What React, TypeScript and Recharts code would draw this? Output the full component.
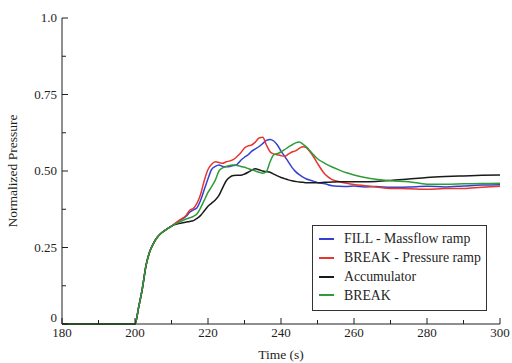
import { LineChart, Line, XAxis, YAxis } from 'recharts';

// time samples (s)
const time = [
  180, 190, 200, 201, 202, 203, 204, 205, 206, 207, 208, 210, 212,
  214, 215, 216, 217, 218, 219, 220, 221, 222, 223, 224, 225, 226, 227, 228, 229, 230,
  231, 232, 233, 234, 235, 236, 237, 238, 239, 240, 241, 242, 243, 244, 245, 246, 247,
  248, 249, 250, 252, 254, 256, 258, 260, 263, 266, 270, 275, 280, 285, 290, 295, 300,
];

// shared start-up part, 180 .. 210 s
const rise = [0, 0, 0, 0.055, 0.115, 0.19, 0.235, 0.262, 0.282, 0.295, 0.304, 0.32];

// 212 .. 300 s
const fillMassflow = [
  0.336, 0.352, 0.365, 0.373, 0.38, 0.405, 0.44, 0.475, 0.505, 0.515, 0.52, 0.515, 0.514,
  0.515, 0.518, 0.522, 0.535, 0.545, 0.553, 0.565, 0.572, 0.58, 0.59, 0.6, 0.603, 0.598,
  0.585, 0.565, 0.548, 0.53, 0.512, 0.498, 0.488, 0.48, 0.474, 0.47, 0.466, 0.462,
  0.458, 0.452, 0.45, 0.449, 0.451, 0.448, 0.449, 0.447, 0.448, 0.45, 0.448, 0.451, 0.454, 0.455,
];
const breakPressure = [
  0.338, 0.355, 0.372, 0.378, 0.395, 0.425, 0.47, 0.505, 0.522, 0.53, 0.528, 0.525, 0.53,
  0.533, 0.538, 0.548, 0.56, 0.575, 0.582, 0.585, 0.595, 0.608, 0.61, 0.585, 0.563, 0.556,
  0.553, 0.55, 0.548, 0.555, 0.562, 0.566, 0.574, 0.579, 0.576, 0.562, 0.545, 0.525,
  0.49, 0.472, 0.465, 0.46, 0.456, 0.452, 0.448, 0.443, 0.442, 0.44, 0.443, 0.443, 0.447, 0.45,
];
const accumulator = [
  0.328, 0.333, 0.335, 0.338, 0.345, 0.355, 0.37, 0.385, 0.395, 0.405, 0.42, 0.445, 0.468,
  0.48, 0.485, 0.486, 0.486, 0.49, 0.496, 0.503, 0.507, 0.504, 0.5, 0.498, 0.496, 0.49,
  0.484, 0.479, 0.475, 0.471, 0.468, 0.466, 0.464, 0.463, 0.462, 0.462, 0.462, 0.462,
  0.463, 0.464, 0.465, 0.465, 0.465, 0.465, 0.466, 0.469, 0.474, 0.479, 0.482, 0.484, 0.486, 0.487,
];
const breakOnly = [
  0.332, 0.343, 0.347, 0.352, 0.36, 0.38, 0.405, 0.43, 0.449, 0.47, 0.5, 0.51, 0.515,
  0.518, 0.52, 0.518, 0.515, 0.512, 0.508, 0.504, 0.5, 0.496, 0.493, 0.498, 0.53, 0.553,
  0.557, 0.562, 0.57, 0.578, 0.585, 0.592, 0.595, 0.588, 0.578, 0.565, 0.552, 0.54,
  0.525, 0.513, 0.503, 0.494, 0.487, 0.479, 0.473, 0.468, 0.465, 0.457, 0.457, 0.458, 0.459, 0.46,
];

const xTicks = [180, 190, 200, 210, 220, 230, 240, 250, 260, 270, 280, 290, 300];
const xMajor = [180, 200, 220, 240, 260, 280, 300];
const yTicks = [0, 0.125, 0.25, 0.375, 0.5, 0.625, 0.75, 0.875, 1];
const yLabels: Record<string, string> = { '0': '0', '0.25': '0.25', '0.5': '0.50', '0.75': '0.75', '1': '1.0' };

const series = [
  { key: 'fill', name: 'FILL - Massflow ramp', color: '#3340d4', values: fillMassflow },
  { key: 'press', name: 'BREAK - Pressure ramp', color: '#e5362f', values: breakPressure },
  { key: 'acc', name: 'Accumulator', color: '#1a1a1a', values: accumulator },
  { key: 'brk', name: 'BREAK', color: '#2f9c38', values: breakOnly },
];

const data = time.map((t, i) => {
  const row: Record<string, number> = { t };
  series.forEach((s) => {
    row[s.key] = i < rise.length ? rise[i] : s.values[i - rise.length];
  });
  return row;
});

const FONT = '"Liberation Serif", "Times New Roman", Tinos, "DejaVu Serif", serif';
const INK = '#1e1e1e';
const MAJOR = 6;
const MINOR = 4;

function BottomTick({ x, y, payload }: any) {
  const major = xMajor.includes(payload.value);
  return (
    <g>
      <line x1={x} x2={x} y1={y} y2={y - (major ? MAJOR : MINOR)} stroke={INK} />
      {major && (
        <text x={x} y={y + 13} textAnchor="middle" fontFamily={FONT} fontSize={13} fill={INK}>
          {payload.value}
        </text>
      )}
    </g>
  );
}

function TopTick({ x, y, payload }: any) {
  const major = xMajor.includes(payload.value);
  return <line x1={x} x2={x} y1={y} y2={y + (major ? MAJOR : MINOR)} stroke={INK} />;
}

function LeftTick({ x, y, payload }: any) {
  const label = yLabels[String(payload.value)];
  // the "0" sits a bit higher so it stays clear of the "180" below it
  const dy = payload.value === 0 ? -2 : 4;
  return (
    <g>
      <line x1={x} x2={x + (label ? MAJOR : MINOR)} y1={y} y2={y} stroke={INK} />
      {label && (
        <text x={x - 5} y={y + dy} textAnchor="end" fontFamily={FONT} fontSize={13} fill={INK}>
          {label}
        </text>
      )}
    </g>
  );
}

function RightTick({ x, y, payload }: any) {
  const major = yLabels[String(payload.value)] !== undefined;
  return <line x1={x} x2={x - (major ? MAJOR : MINOR)} y1={y} y2={y} stroke={INK} />;
}

function LegendBox() {
  return (
    <div
      style={{
        position: 'absolute',
        left: 312,
        top: 225,
        width: 175,
        boxSizing: 'border-box',
        border: '1px solid #333',
        background: '#fff',
        padding: '4px 0 5px 6px',
        fontFamily: FONT,
        fontSize: 13.8,
        color: INK,
        lineHeight: 1,
      }}
    >
      {series.map((s) => (
        <div key={s.key} style={{ display: 'flex', alignItems: 'center', height: 18.7 }}>
          <span style={{ display: 'inline-block', width: 15, height: 2, background: s.color, marginRight: 10 }} />
          {s.name}
        </div>
      ))}
    </div>
  );
}

export default function App() {
  return (
    <div style={{ position: 'absolute', left: 0, top: 0, width: 512, height: 363, background: '#fff' }}>
      <LineChart width={512} height={363} data={data} margin={{ top: 18, right: 12, left: 0, bottom: 0 }}>
        <XAxis
          dataKey="t"
          type="number"
          domain={[180, 300]}
          ticks={xTicks}
          tick={<BottomTick />}
          tickSize={0}
          tickMargin={0}
          tickLine={false}
          axisLine={{ stroke: INK }}
          height={39}
          label={{ value: 'Time (s)', position: 'insideBottom', offset: 4, fontFamily: FONT, fontSize: 13.5, fill: INK }}
        />
        <XAxis
          xAxisId="top"
          orientation="top"
          dataKey="t"
          type="number"
          domain={[180, 300]}
          ticks={xTicks}
          tick={<TopTick />}
          tickSize={0}
          tickMargin={0}
          tickLine={false}
          axisLine={{ stroke: INK }}
          height={0}
        />
        <YAxis
          type="number"
          domain={[0, 1]}
          ticks={yTicks}
          tick={<LeftTick />}
          tickSize={0}
          tickMargin={0}
          tickLine={false}
          axisLine={{ stroke: INK }}
          width={62}
          label={{
            value: 'Normalized Pressure',
            angle: -90,
            position: 'insideLeft',
            offset: 12,
            style: { textAnchor: 'middle' },
            fontFamily: FONT,
            fontSize: 13.5,
            fill: INK,
          }}
        />
        <YAxis
          yAxisId="right"
          orientation="right"
          type="number"
          domain={[0, 1]}
          ticks={yTicks}
          tick={<RightTick />}
          tickSize={0}
          tickMargin={0}
          tickLine={false}
          axisLine={{ stroke: INK }}
          width={0}
        />
        {series.map((s) => (
          <Line
            key={s.key}
            type="monotone"
            dataKey={s.key}
            name={s.name}
            stroke={s.color}
            strokeWidth={1.5}
            dot={false}
            isAnimationActive={false}
          />
        ))}
      </LineChart>
      <LegendBox />
    </div>
  );
}
